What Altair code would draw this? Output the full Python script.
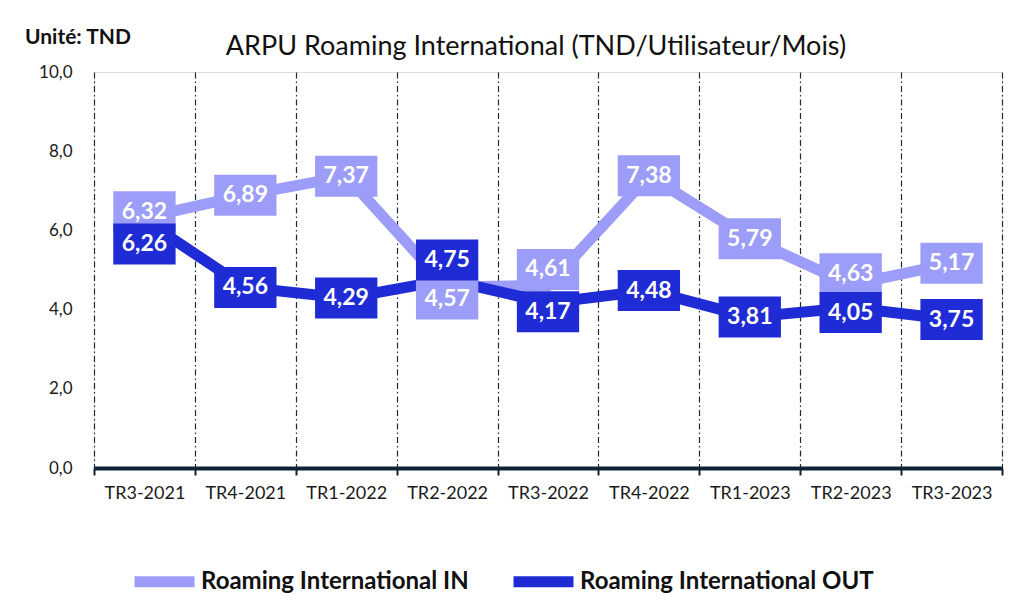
import altair as alt
import pandas as pd

quarters = ["TR3-2021", "TR4-2021", "TR1-2022", "TR2-2022", "TR3-2022",
            "TR4-2022", "TR1-2023", "TR2-2023", "TR3-2023"]
series_names = ["Roaming International IN", "Roaming International OUT"]
roaming_in = [6.32, 6.89, 7.37, 4.57, 4.61, 7.38, 5.79, 4.63, 5.17]
roaming_out = [6.26, 4.56, 4.29, 4.75, 4.17, 4.48, 3.81, 4.05, 3.75]
# label nudges (pixels, positive = down), styling only
in_label_dy = [-6, 0, 0, 12, -16, 0, 0, -11, 0]
out_label_dy = [24, 0, 0, -20, 9, 0, 0, 5, 0]
y_ticks = [0, 2, 4, 6, 8, 10]
colors = ["#9C9DF8", "#1F2BD4"]

PLOT_H = 396
Y_MAX = 10

rows = []
for i, q in enumerate(quarters):
    rows.append({"quarter": q, "series": series_names[0], "value": roaming_in[i], "dy": in_label_dy[i]})
for i, q in enumerate(quarters):
    rows.append({"quarter": q, "series": series_names[1], "value": roaming_out[i], "dy": out_label_dy[i]})
df = pd.DataFrame(rows)
df["label"] = df["value"].map(lambda v: f"{v:.2f}".replace(".", ","))

FONT = "Lato"

x = alt.X("quarter:N", sort=quarters, title=None,
          scale=alt.Scale(paddingInner=0, paddingOuter=0),
          axis=alt.Axis(tickBand="extent", grid=True, gridColor="#1B2B3B",
                        gridDash=[6, 3, 1.5, 3], gridWidth=1.2,
                        domainColor="#0E2233", domainWidth=4,
                        tickColor="#0E2233", tickWidth=2, tickSize=7,
                        labelFont=FONT, labelFontSize=18, labelColor="#1a1a1a",
                        labelPadding=9, labelAngle=0))
y = alt.Y("value:Q", title=None,
          scale=alt.Scale(domain=[0, Y_MAX], nice=False),
          axis=alt.Axis(values=y_ticks, grid=False, domain=False, ticks=False,
                        labelFont=FONT, labelFontSize=17, labelColor="#1a1a1a",
                        labelPadding=22,
                        labelExpr="replace(format(datum.value, '.1f'), '.', ',')"))
color_scale = alt.Scale(domain=series_names, range=colors)

base = alt.Chart(df)

lines = base.mark_line(strokeWidth=11, strokeJoin="miter").encode(
    x=x, y=y,
    color=alt.Color("series:N", scale=color_scale, title=None,
                    legend=alt.Legend(orient="none", legendX=35, legendY=474,
                                      direction="horizontal", columns=2,
                                      padding=0,
                                      symbolType="stroke", symbolStrokeWidth=11,
                                      symbolSize=3600, labelFont=FONT,
                                      labelFontSize=24, labelFontWeight="bold",
                                      labelColor="#111111", labelLimit=400,
                                      columnPadding=22, labelOffset=1)),
    detail="series:N",
)

labelled = base.transform_calculate(
    ylab=f"datum.value - datum.dy * {Y_MAX} / {PLOT_H}"
)

boxes = labelled.mark_point(shape="M-1.52,-1H1.52V1H-1.52Z", size=1681, filled=True,
                            opacity=1, strokeWidth=0).encode(
    x=alt.X("quarter:N", sort=quarters),
    y=alt.Y("ylab:Q"),
    color=alt.Color("series:N", scale=color_scale, legend=None),
)

labels = labelled.mark_text(font=FONT, fontSize=23, fontWeight="bold", color="white",
                            baseline="middle", align="center").encode(
    x=alt.X("quarter:N", sort=quarters),
    y=alt.Y("ylab:Q"),
    text="label:N",
)

boxes_in = boxes.transform_filter(alt.datum.series == series_names[0])
boxes_out = boxes.transform_filter(alt.datum.series == series_names[1])
labels_in = labels.transform_filter(alt.datum.series == series_names[0])
labels_out = labels.transform_filter(alt.datum.series == series_names[1])

texts = alt.Chart(pd.DataFrame({
    "t": ["Unité: TND", "ARPU Roaming International (TND/Utilisateur/Mois)"],
    "kind": ["unit", "title"],
}))
unit = texts.transform_filter(alt.datum.kind == "unit").mark_text(
    font=FONT, fontSize=21, fontWeight="bold", color="#111111", align="left",
    baseline="middle").encode(text="t:N", x=alt.value(-69), y=alt.value(-34))
title = texts.transform_filter(alt.datum.kind == "title").mark_text(
    font=FONT, fontSize=27, color="#111111", align="center",
    baseline="middle").encode(text="t:N", x=alt.value(442), y=alt.value(-25))

chart = alt.layer(lines, boxes_in, labels_in, boxes_out, labels_out, unit, title).properties(
    width=908, height=PLOT_H,
    autosize=alt.AutoSizeParams(type="none"),
    padding={"left": 86, "top": 64, "right": 11, "bottom": 130},
).configure_view(stroke=None).configure(background="white")

chart.save("out.html", embed_options={"renderer": "svg", "actions": False})
